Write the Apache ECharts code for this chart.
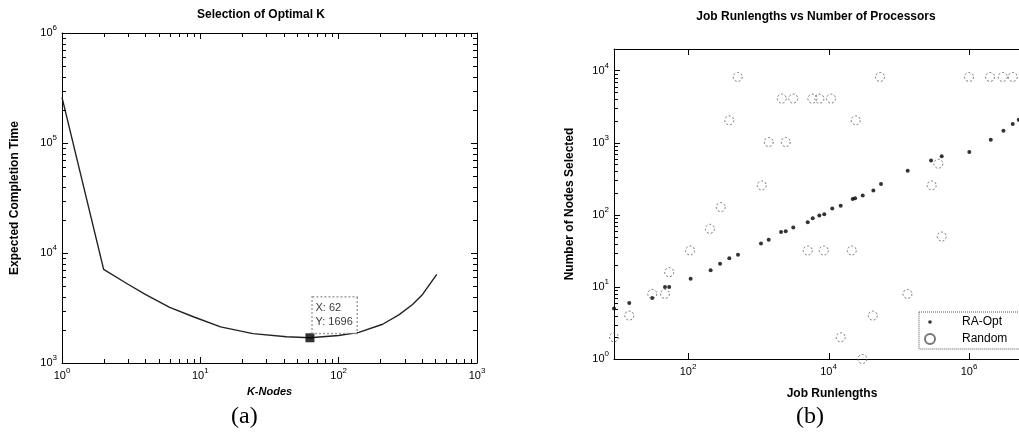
<!DOCTYPE html>
<html><head><meta charset="utf-8">
<script src="https://cdn.jsdelivr.net/npm/echarts@6/dist/echarts.min.js"></script>
<style>html,body{margin:0;padding:0;background:#fff}#c{width:1019px;height:441px}</style>
</head><body><div id="c"></div>
<script>
// ---- Panel (a): Selection of Optimal K ----
const kNodes = [1, 2, 3, 4, 6, 9, 14, 24, 42, 62, 100, 140, 208, 274, 342, 404, 512];
const completionTime = [260000, 7100, 5200, 4200, 3200, 2620, 2130, 1850, 1730, 1696, 1780, 1900, 2250, 2750, 3400, 4200, 6400];
const tipX = 62;
const tipY = 1696;

// ---- Panel (b): Job Runlengths vs Number of Processors ----
const raOptX = [8.85, 14.6, 31, 47, 54, 109, 210, 286, 387, 515, 1094, 1408, 2110, 2460, 3150, 5060, 5960, 7400, 8700, 11300, 14900, 22100, 23900, 30700, 43500, 55900, 134000, 288000, 408000, 1010000, 2040000, 3090000, 4190000, 5100000];
const raOptY = [5, 6, 7, 10, 10, 13, 17, 21, 25, 28, 40, 45, 58, 59, 67, 79, 90, 98, 102, 122, 134, 166, 170, 186, 218, 267, 409, 569, 650, 743, 1100, 1466, 1817, 2085];
const randomX = [8.85, 14.6, 31, 47, 54, 107, 205, 292, 1120, 1410, 2460, 510, 387, 2160, 3150, 5890, 7410, 10870, 54000, 24400, 5060, 8550, 21400, 14900, 30300, 42600, 133000, 294000, 366000, 408000, 1000000, 1990000, 3020000, 4190000];
const randomY = [2, 4, 8, 8, 16, 32, 64, 128, 256, 1024, 1024, 8192, 2048, 4096, 4096, 4096, 4096, 4096, 8192, 2048, 32, 32, 32, 2, 1, 4, 8, 256, 512, 50, 8192, 8192, 8192, 8192];

// ---- axis settings / tick labels ----
const aXRange = [1, 1000];
const aYRange = [1000, 1000000];
const bXRange = [8.85, 14200000];
const bYRange = [1, 20000];
const aXMinorDecades = [1, 10, 100];
const aYMinorDecades = [1000, 10000, 100000];
const bYMinorDecades = [1, 10, 100, 1000, 10000];
const minorMultipliers = [2, 3, 4, 5, 6, 7, 8, 9];
const bXMajorTicks = [100, 10000, 1000000];

const font = '"Liberation Sans", Arial, sans-serif';
const rich = {
  b: { fontSize: 11, fontFamily: font, color: '#000', lineHeight: 18 },
  s: { fontSize: 8, fontFamily: font, color: '#000', verticalAlign: 'top', lineHeight: 10 }
};
function powLabel(evenOnly) {
  return function (v) {
    const e = Math.log10(v), r = Math.round(e);
    if (Math.abs(e - r) > 1e-6) return '';
    if (evenOnly && r % 2 !== 0) return '';
    return '{b|10}{s|' + r + '}';
  };
}
function minorList(decades, maxV) {
  const out = [];
  decades.forEach(d => minorMultipliers.forEach(m => { if (d * m < maxV) out.push(d * m); }));
  return out;
}
function tickSeries(xAxisIndex, yAxisIndex, anchor, xVals, yVals, len, sides) {
  return {
    type: 'custom', xAxisIndex: xAxisIndex, yAxisIndex: yAxisIndex, silent: true, z: 10,
    clip: false,
    data: [anchor],
    renderItem: function (params, api) {
      const cs = params.coordSys;
      const top = cs.y, bottom = cs.y + cs.height, left = cs.x, right = cs.x + cs.width;
      const ch = [];
      xVals.forEach(v => {
        const px = Math.round(api.coord([v, anchor[1]])[0]) + 0.5;
        if (sides.indexOf('b') >= 0) ch.push({ type: 'line', shape: { x1: px, y1: bottom, x2: px, y2: bottom - len }, style: { stroke: '#000', lineWidth: 1 } });
        if (sides.indexOf('t') >= 0) ch.push({ type: 'line', shape: { x1: px, y1: top, x2: px, y2: top + len }, style: { stroke: '#000', lineWidth: 1 } });
      });
      yVals.forEach(v => {
        const py = Math.round(api.coord([anchor[0], v])[1]) + 0.5;
        if (sides.indexOf('l') >= 0) ch.push({ type: 'line', shape: { x1: left, y1: py, x2: left + len, y2: py }, style: { stroke: '#000', lineWidth: 1 } });
        if (sides.indexOf('r') >= 0) ch.push({ type: 'line', shape: { x1: right, y1: py, x2: right - len, y2: py }, style: { stroke: '#000', lineWidth: 1 } });
      });
      return { type: 'group', children: ch };
    }
  };
}
const axisLine = { show: true, onZero: false, lineStyle: { color: '#000', width: 1 } };
function majorTick() { return { show: true, inside: true, length: 6, lineStyle: { color: '#000', width: 1 } }; }
const nameStyle = { fontFamily: font, fontSize: 12, fontWeight: 'bold', color: '#000' };

const chart = echarts.init(document.getElementById('c'), null, { renderer: 'canvas' });
chart.setOption({
  backgroundColor: '#fff',
  animation: false,
  title: [
    { text: 'Selection of Optimal K', left: 261, top: 9, textAlign: 'center', padding: 0,
      textStyle: { fontFamily: font, fontSize: 12, fontWeight: 'bold', color: '#000' } },
    { text: 'Job Runlengths vs Number of Processors', left: 816, top: 11, textAlign: 'center', padding: 0,
      textStyle: { fontFamily: font, fontSize: 12, fontWeight: 'bold', color: '#000' } }
  ],
  grid: [
    { left: 62, top: 33, width: 415, height: 330, outerBoundsMode: 'none', containLabel: false },
    { left: 614, top: 49, width: 436, height: 310, outerBoundsMode: 'none', containLabel: false }
  ],
  xAxis: [
    { type: 'log', gridIndex: 0, min: aXRange[0], max: aXRange[1], position: 'bottom',
      name: 'K-Nodes', nameLocation: 'middle', nameGap: 22,
      nameTextStyle: Object.assign({}, nameStyle, { fontStyle: 'italic', fontSize: 11 }),
      axisLine: axisLine, axisTick: majorTick(),
      axisLabel: { formatter: powLabel(false), rich: rich, margin: 4 }, splitLine: { show: false } },
    { type: 'log', gridIndex: 0, min: aXRange[0], max: aXRange[1], position: 'top',
      axisLine: axisLine, axisTick: majorTick(),
      axisLabel: { show: false }, splitLine: { show: false } },
    { type: 'log', gridIndex: 1, min: bXRange[0], max: bXRange[1], position: 'bottom',
      name: 'Job Runlengths', nameLocation: 'middle', nameGap: 29, nameTextStyle: nameStyle,
      axisLine: axisLine, axisTick: { show: false },
      axisLabel: { formatter: powLabel(true), rich: rich, margin: 4, showMinLabel: false, showMaxLabel: false }, splitLine: { show: false } },
    { type: 'log', gridIndex: 1, min: bXRange[0], max: bXRange[1], position: 'top',
      axisLine: axisLine, axisTick: { show: false },
      axisLabel: { show: false }, splitLine: { show: false } }
  ],
  yAxis: [
    { type: 'log', gridIndex: 0, min: aYRange[0], max: aYRange[1], position: 'left',
      name: 'Expected Completion Time', nameLocation: 'middle', nameGap: 41, nameTextStyle: nameStyle,
      axisLine: axisLine, axisTick: majorTick(),
      axisLabel: { formatter: powLabel(false), rich: rich, margin: 5 }, splitLine: { show: false } },
    { type: 'log', gridIndex: 0, min: aYRange[0], max: aYRange[1], position: 'right',
      axisLine: axisLine, axisTick: majorTick(),
      axisLabel: { show: false }, splitLine: { show: false } },
    { type: 'log', gridIndex: 1, min: bYRange[0], max: bYRange[1], position: 'left',
      name: 'Number of Nodes Selected', nameLocation: 'middle', nameGap: 38, nameTextStyle: nameStyle,
      axisLine: axisLine, axisTick: majorTick(),
      axisLabel: { formatter: powLabel(false), rich: rich, margin: 5, showMaxLabel: false }, splitLine: { show: false } },
    { type: 'log', gridIndex: 1, min: bYRange[0], max: bYRange[1], position: 'right',
      axisLine: axisLine, axisTick: majorTick(),
      axisLabel: { show: false }, splitLine: { show: false } }
  ],
  legend: {
    orient: 'vertical', left: 919, top: 312,
    data: [
      { name: 'RA-Opt', icon: 'path://M0 0M10 10M5 3.2A1.8 1.8 0 1 1 5 6.8A1.8 1.8 0 1 1 5 3.2Z' },
      { name: 'Random' }
    ],
    itemWidth: 30, itemHeight: 10, itemGap: 5,
    padding: [4, 30, 4, 5],
    backgroundColor: '#fff', borderColor: '#555', borderWidth: 1, borderType: 'dotted',
    textStyle: { fontFamily: font, fontSize: 12, color: '#000', padding: [0, 0, 0, 12] }
  },
  series: [
    { name: 'Completion', type: 'line', xAxisIndex: 0, yAxisIndex: 0,
      data: kNodes.map((k, i) => [k, completionTime[i]]),
      showSymbol: false, symbol: 'none', lineStyle: { color: '#222', width: 1.4 }, z: 3 },
    { name: 'Tip', type: 'scatter', xAxisIndex: 0, yAxisIndex: 0,
      data: [[tipX, tipY]], symbol: 'rect', symbolSize: 9, itemStyle: { color: '#000' }, z: 6,
      label: { show: true, position: [7, -36], formatter: 'X: ' + tipX + '\nY: ' + tipY,
        fontFamily: font, fontSize: 11, lineHeight: 14, color: '#000',
        backgroundColor: '#fff', borderColor: '#666', borderWidth: 1, borderType: 'dotted',
        padding: [4, 4, 4, 3] } },
    { name: 'RA-Opt', type: 'scatter', xAxisIndex: 2, yAxisIndex: 2,
      data: raOptX.map((x, i) => [x, raOptY[i]]),
      symbol: 'circle', symbolSize: 4, itemStyle: { color: '#000' }, z: 3 },
    { name: 'Random', type: 'scatter', xAxisIndex: 2, yAxisIndex: 2,
      data: randomX.map((x, i) => [x, randomY[i]]),
      symbol: 'circle', symbolSize: 9,
      itemStyle: { color: 'rgba(255,255,255,0)', borderColor: '#555', borderWidth: 1, borderType: [2, 2] }, z: 3 },
    tickSeries(0, 0, [10, 10000], minorList(aXMinorDecades, 1000), minorList(aYMinorDecades, 1000000), 4, 'btlr'),
    tickSeries(2, 2, [1000, 100], bXMajorTicks, [], 6, 'bt'),
    tickSeries(2, 2, [1000, 100], [], minorList(bYMinorDecades, 20000), 4, 'lr')
  ],
  graphic: [
    { type: 'text', left: 231, top: 405, style: { text: '(a)', font: '24px "Liberation Serif", "Times New Roman", serif', fill: '#000' } },
    { type: 'text', left: 796, top: 405, style: { text: '(b)', font: '24px "Liberation Serif", "Times New Roman", serif', fill: '#000' } }
  ]
});
</script></body></html>
